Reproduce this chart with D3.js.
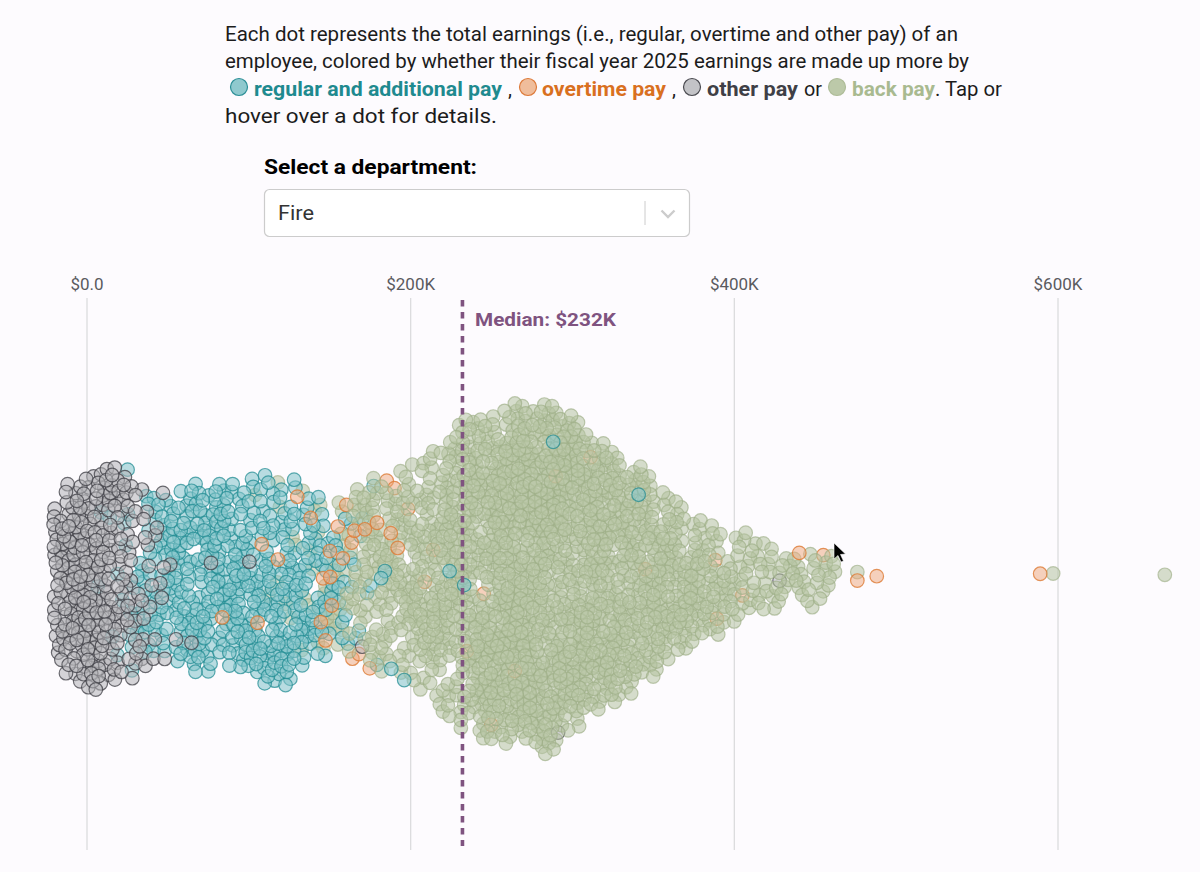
<!DOCTYPE html>
<html><head><meta charset="utf-8">
<script src="https://cdn.jsdelivr.net/npm/d3@7"></script>
<style>
html,body{margin:0;padding:0;background:#fdfbfe;overflow:hidden}
svg{display:block}
text{font-family:Roboto,sans-serif}
</style></head><body>
<svg id="c" width="1200" height="872"></svg>
<script>
const tickValues=[0,200,400,600];
const medianValue=232;
const departmentName="Fire";
const otherPay=[-20,-20,-20,-20,-20,-20,-20,-19,-19,-19,-18,-18,-18,-18,-17,-17,-17,-17,-16,-16,-16,-16,-15,-15,-15,-15,-15,-14,-14,-14,-14,-13,-13,-13,-13,-12,-12,-12,-12,-12,-11,-11,-11,-11,-11,-10,-10,-10,-10,-10,-10,-9,-9,-9,-9,-9,-9,-8,-8,-8,-8,-8,-8,-7,-7,-7,-7,-7,-6,-6,-6,-6,-6,-6,-6,-5,-5,-5,-5,-5,-5,-4,-4,-4,-4,-4,-4,-4,-3,-3,-3,-3,-3,-2,-2,-2,-2,-2,-2,-1,-1,-1,-1,-1,-1,-1,0,0,0,0,0,0,1,1,1,1,1,1,2,2,2,2,2,2,2,3,3,3,3,3,3,4,4,4,4,4,4,4,5,5,5,5,5,5,6,6,6,6,6,7,7,7,7,7,7,7,8,8,8,8,8,8,9,9,9,9,9,9,10,10,10,10,10,11,11,11,11,11,11,12,12,12,12,12,13,13,13,13,13,14,14,14,14,14,14,15,15,15,15,15,16,16,16,16,17,17,17,17,17,18,18,18,18,19,19,19,19,20,20,20,20,21,21,21,21,22,22,22,22,23,23,23,24,24,24,24,25,25,25,26,26,26,27,27,27,27,28,28,28,29,29,30,30,30,31,31,32,32,33,33,34,34,35,35,36,36,37,38,38,39,40,41,42,43,44,45,46,47,48,50,52,55,64,78,100,170,290,428];
const regularPay=[4,9,14,15,17,19,22,23,24,25,26,27,28,28,29,29,31,31,32,33,33,34,34,35,35,36,36,37,37,38,38,38,39,39,39,39,41,41,42,42,42,43,43,43,44,44,44,45,45,45,46,46,46,47,47,47,48,48,48,49,49,49,50,50,50,51,51,51,52,52,52,52,53,53,53,54,54,54,55,55,55,55,56,56,56,57,57,57,58,58,58,58,59,59,59,59,60,60,60,61,61,61,61,62,62,62,62,63,63,63,63,64,64,64,64,65,65,65,65,66,66,66,66,67,67,67,67,68,68,68,68,69,69,69,69,70,70,70,70,71,71,71,71,72,72,72,72,73,73,73,73,74,74,74,74,75,75,75,75,76,76,76,76,77,77,77,77,78,78,78,78,79,79,79,79,80,80,80,80,81,81,81,81,82,82,82,82,83,83,83,83,84,84,84,84,85,85,85,85,86,86,86,86,87,87,87,87,88,88,88,88,89,89,89,89,90,90,90,90,91,91,91,91,92,92,92,92,93,93,93,93,94,94,94,94,95,95,95,95,96,96,96,96,97,97,97,97,98,98,98,98,99,99,99,99,100,100,100,100,101,101,101,101,102,102,102,102,103,103,103,103,104,104,104,104,105,105,105,105,106,106,106,106,107,107,107,107,108,108,108,108,109,109,109,109,110,110,110,110,111,111,111,111,112,112,112,112,113,113,113,113,114,114,114,114,115,115,115,115,116,116,116,116,117,117,117,117,118,118,118,118,119,119,119,119,120,120,120,120,121,121,121,121,122,122,122,122,123,123,123,123,124,124,124,124,125,125,125,125,126,126,126,126,127,127,127,127,128,128,128,128,129,129,129,129,130,130,130,131,131,131,132,132,132,133,133,133,134,134,134,135,135,135,136,136,136,137,137,137,138,138,138,139,139,139,140,140,141,141,142,142,143,143,144,144,144,145,145,146,146,147,147,148,148,149,149,150,150,151,152,152,153,154,155,155,156,157,158,158,159,160,161,162,163,164,165,166,168,169,171,173,175,177,179,182,184,188,196,225,233,289,340];
const overtimePay=[85,105,108,118,130,138,145,147,147,150,150,152,155,158,160,163,164,165,168,172,175,178,185,188,190,192,198,208,215,235,245,250,262,290,310,345,388,390,405,440,455,476,488,589];
const backPay=[104,117,112,118,119,123,126,127,129,131,133,134,136,138,139,141,142,143,144,145,146,147,148,148,149,151,151,152,153,153,154,155,155,156,156,157,157,158,159,159,161,161,162,162,163,163,164,164,165,165,166,166,167,167,168,168,168,169,169,169,171,171,171,172,172,172,172,173,173,173,173,174,174,174,175,175,175,175,176,176,176,176,177,177,177,178,178,178,178,179,179,179,181,181,181,181,182,182,182,182,183,183,183,183,184,184,184,184,185,185,185,185,186,186,186,186,187,187,187,187,188,188,188,188,189,189,189,191,191,191,191,192,192,192,192,193,193,193,193,194,194,194,194,195,195,195,195,196,196,196,196,197,197,197,197,198,198,198,198,199,199,199,199,200,200,200,200,201,201,201,201,202,202,202,202,203,203,203,203,204,204,204,204,205,205,205,205,206,206,206,206,207,207,207,207,208,208,208,208,209,209,209,210,210,210,210,211,211,211,211,211,212,212,212,212,213,213,213,213,213,214,214,214,214,214,215,215,215,215,216,216,216,216,216,217,217,217,217,217,218,218,218,218,219,219,219,219,219,220,220,220,220,220,221,221,221,221,221,222,222,222,222,222,223,223,223,223,223,223,224,224,224,224,224,225,225,225,225,225,226,226,226,226,226,226,227,227,227,227,227,228,228,228,228,228,229,229,229,229,229,229,230,230,230,230,230,231,231,231,231,231,231,232,232,232,232,232,233,233,233,233,233,233,234,234,234,234,234,235,235,235,235,235,235,236,236,236,236,236,237,237,237,237,237,237,238,238,238,238,238,239,239,239,239,239,239,240,240,240,240,240,240,241,241,241,241,241,242,242,242,242,242,242,243,243,243,243,243,243,244,244,244,244,244,245,245,245,245,245,245,246,246,246,246,246,246,247,247,247,247,247,248,248,248,248,248,248,249,249,249,249,249,249,250,250,250,250,250,250,251,251,251,251,251,251,252,252,252,252,252,252,253,253,253,253,253,254,254,254,254,254,254,255,255,255,255,255,255,256,256,256,256,256,256,257,257,257,257,257,257,258,258,258,258,258,258,259,259,259,259,259,260,260,260,260,260,260,261,261,261,261,261,261,262,262,262,262,262,262,263,263,263,263,263,263,263,264,264,264,264,264,264,265,265,265,265,265,265,266,266,266,266,266,266,266,267,267,267,267,267,267,268,268,268,268,268,268,269,269,269,269,269,269,269,270,270,270,270,270,270,271,271,271,271,271,271,271,272,272,272,272,272,272,273,273,273,273,273,273,273,274,274,274,274,274,274,275,275,275,275,275,275,276,276,276,276,276,276,276,277,277,277,277,277,277,278,278,278,278,278,278,278,279,279,279,279,279,279,280,280,280,280,280,280,281,281,281,281,281,281,282,282,282,282,282,282,282,283,283,283,283,283,283,284,284,284,284,284,284,285,285,285,285,285,285,286,286,286,286,286,286,287,287,287,287,287,287,288,288,288,288,288,288,289,289,289,289,289,290,290,290,290,290,290,291,291,291,291,291,291,292,292,292,292,292,293,293,293,293,293,293,294,294,294,294,294,294,295,295,295,295,295,296,296,296,296,296,296,297,297,297,297,297,298,298,298,298,298,298,299,299,299,299,299,300,300,300,300,300,300,301,301,301,301,301,302,302,302,302,302,302,303,303,303,303,303,304,304,304,304,304,305,305,305,305,305,305,306,306,306,306,306,307,307,307,307,307,308,308,308,308,308,309,309,309,309,309,310,310,310,310,310,311,311,311,311,311,312,312,312,312,312,313,313,313,313,313,314,314,314,314,314,315,315,315,315,315,316,316,316,316,317,317,317,317,317,318,318,318,318,318,319,319,319,319,319,320,320,320,320,321,321,321,321,321,322,322,322,322,323,323,323,323,323,324,324,324,324,325,325,325,325,325,326,326,326,326,327,327,327,327,328,328,328,328,328,329,329,329,329,330,330,330,330,331,331,331,331,332,332,332,332,333,333,333,333,334,334,334,334,335,335,335,335,336,336,336,336,337,337,337,337,338,338,338,338,339,339,339,339,340,340,340,341,341,341,341,342,342,342,342,343,343,343,343,344,344,344,345,345,345,345,346,346,346,346,347,347,347,348,348,348,348,349,349,349,350,350,350,351,351,351,351,352,352,352,353,353,353,354,354,354,354,355,355,355,356,356,356,357,357,357,358,358,358,359,359,359,360,360,360,361,361,361,362,362,362,363,363,363,364,364,364,365,365,366,366,366,367,367,367,368,368,369,369,369,370,370,371,371,371,372,372,373,373,373,374,374,375,375,375,376,376,377,377,378,378,378,379,379,380,380,381,381,382,382,383,383,384,384,385,385,386,386,387,387,388,388,389,389,390,390,391,391,392,392,393,393,394,394,395,396,396,397,397,398,399,399,400,400,401,402,402,403,404,404,405,405,406,407,407,408,409,410,410,411,412,412,413,414,415,415,416,417,418,418,419,420,421,422,423,423,424,425,426,427,428,429,430,431,432,434,435,436,437,438,439,440,441,442,443,445,446,447,448,449,450,451,452,453,455,456,457,458,459,460,461,462,476,597,666];
const backPayCore=[201,203,204,206,207,209,210,211,212,214,215,216,217,218,219,220,221,222,222,223,224,225,225,226,227,227,228,229,229,230,230,231,232,232,233,233,234,234,235,235,236,236,237,237,238,238,239,239,240,240,240,241,241,242,242,242,243,243,244,244,244,245,245,245,246,246,246,247,247,247,248,248,248,249,249,249,250,250,250,250,251,251,251,252,252,252,252,253,253,253,254,254,254,254,255,255,255,255,256,256,256,256,257,257,257,257,258,258,258,258,259,259,259,259,260,260,260,260,261,261,261,261,262,262,262,262,263,263,263,263,264,264,264,264,265,265,265,265,266,266,266,266,267,267,267,267,268,268,268,268,269,269,269,269,270,270,270,270,271,271,271,271,272,272,272,272,273,273,273,273,274,274,274,274,275,275,275,275,276,276,276,276,277,277,277,277,278,278,278,278,279,279,279,279,280,280,280,280,281,281,281,281,282,282,282,282,283,283,283,283,284,284,284,284,285,285,285,285,286,286,286,286,287,287,287,287,288,288,288,288,289,289,289,289,290,290,290,290,291,291,291,291,292,292,292,292,293,293,293,293,294,294,294,294,295,295,295,295,296,296,296,296,297,297,297,297,298,298,298,298,299,299,299,299,300,300,300,301,301,301,302,302,302,303,303,303,304,304,304,305,305,305,306,306,306,307,307,307,308,308,308,309,309,309,310,310,310,311,311,311,312,312,312,313,313,313,314,314,314,315,315,315,316,316,316,317,317,317,318,318,318,319,319,319,320,320,320,321,321,321,322,322,322,323,323,323,324,324,324,325,325,325,326,326,327,327,328,328,329,329,330,330,331,331,332,332,333,333,334,334,335,335,336,336,337,337,338,338,339,339,340,340,341,341,342,342,343,343,344,344,345,345,346,346,347,347,348,348,349,349,350,350,351,352,352,353,354,354,355,356,356,357,358,358,359,360,361,361,362,363,364,365,366,367,368,369,370,371,372,373,374,375,376,377,378,380,381,383,384,386,388,390];

const seriesStyles={
  regular:{fill:"#7fc2c8",stroke:"#1f8a92",fo:.55,so:.72},
  overtime:{fill:"#eda679",stroke:"#dd7a34",fo:.5,so:.8},
  other:{fill:"#b2b2b6",stroke:"#3e3e44",fo:.55,so:.75},
  back:{fill:"#b4c2a0",stroke:"#9dae86",fo:.55,so:.65}
};
const x=d3.scaleLinear().domain([0,600]).range([87,1058]);
const centerY=576, R=6.8;
const svg=d3.select("#c");

function rows(name,arr){return arr.map((v,i)=>({v,kind:name,i}));}
const nodes=[].concat(rows("other",otherPay),rows("regular",regularPay),rows("overtime",overtimePay),rows("back",backPay));
const sortedValues=nodes.map(d=>d.v).sort(d3.ascending);
rows("back",backPayCore).forEach(d=>{d.i+=backPay.length;nodes.push(d);});
function nearbyCount(v){return d3.bisectRight(sortedValues,v+10)-d3.bisectLeft(sortedValues,v-10);}
// swarm start: spread each dot vertically according to how many neighbours share its earnings
nodes.forEach((d,k)=>{
  const half=Math.min(d.v<60?104:172,nearbyCount(d.v)*(d.v<190?1.14:1.36));
  const w=(k*k*0.7548776662)%1;
  d.x=x(d.v);
  d.y=centerY+(w*2-1)*half;
});
function layer(d){
  if(d.kind==="back")return d.v<160?0:4;
  if(d.kind==="regular")return d.v>=180?5:1;
  if(d.kind==="overtime")return (d.i%2&&(d.v<=200||d.v>=440))?5:2;
  return d.v>300?2:3;
}
const sim=d3.forceSimulation(nodes)
  .alpha(.6)
  .force("x",d3.forceX(d=>x(d.v)).strength(.5))
  .force("y",d3.forceY(centerY).strength(.002))
  .force("c",d3.forceCollide(4).strength(.5).iterations(1))
  .stop();
for(let i=0;i<60;i++)sim.tick();

// grid + ticks
const g=svg.append("g");
g.selectAll("line.grid").data(tickValues).join("line")
 .attr("x1",d=>x(d)).attr("x2",d=>x(d)).attr("y1",298).attr("y2",850)
 .attr("stroke","#dcdcde").attr("stroke-width",1.3);
g.selectAll("text.tick").data(tickValues).join("text")
 .attr("x",d=>x(d)).attr("y",290).attr("text-anchor","middle")
 .attr("font-size",17).attr("fill","#5a5a5e")
 .text(d=>d===0?"$0.0":`$${d}K`);

// dots
const ordered=nodes.slice().sort((a,b)=>d3.ascending(layer(a),layer(b))||d3.ascending(a.i%7,b.i%7));
svg.append("g").selectAll("circle").data(ordered).join("circle")
 .attr("cx",d=>d.x).attr("cy",d=>d.y).attr("r",R)
 .attr("fill",d=>seriesStyles[d.kind].fill).attr("fill-opacity",d=>seriesStyles[d.kind].fo)
 .attr("stroke",d=>seriesStyles[d.kind].stroke).attr("stroke-opacity",d=>seriesStyles[d.kind].so)
 .attr("stroke-width",1.2);

// median
svg.append("line").attr("x1",x(medianValue)).attr("x2",x(medianValue)).attr("y1",300).attr("y2",846)
 .attr("stroke","#7f5380").attr("stroke-width",3.6).attr("stroke-dasharray","6.5,5.5");
svg.append("text").attr("x",475).attr("y",326).attr("font-size",19).attr("font-weight",700)
 .attr("fill","#7f5380").attr("textLength",141).attr("lengthAdjust","spacingAndGlyphs").text(`Median: $${medianValue}K`);

// intro text
function T(s,xx,y,w,o={}){
  const t=svg.append("text").attr("x",xx).attr("y",y).attr("font-size",o.size||20)
   .attr("font-weight",o.bold?700:400).attr("fill",o.fill||"#1c1c1c").text(s);
  if(w)t.attr("textLength",w).attr("lengthAdjust","spacingAndGlyphs");
  return t;
}
T("Each dot represents the total earnings (i.e., regular, overtime and other pay) of an",225,41,733);
T("employee, colored by whether their fiscal year 2025 earnings are made up more by",225,68,744);
T("hover over a dot for details.",225,123,272);
T("regular and additional pay",254,96,248,{bold:1,fill:"#1f8a8f"});
T(",",508,96,0);
T("overtime pay",542,96,124,{bold:1,fill:"#d9701f"});
T(",",672,96,0);
T("other pay",707,96,91,{bold:1,fill:"#3f3f46"});
T("or",804,96,18);
T("back pay",852,96,83,{bold:1,fill:"#a9ba90"});
T(". Tap or",935,96,67);
const legend=[["regular",239],["overtime",528],["other",692],["back",837]];
svg.append("g").selectAll("circle").data(legend).join("circle")
 .attr("cx",d=>d[1]).attr("cy",87).attr("r",8.5)
 .attr("fill",d=>({regular:"#8fc9ce",overtime:"#f0bd9b",other:"#c3c3c7",back:"#bcc9a9"})[d[0]])
 .attr("stroke",d=>({regular:"#2c8f97",overtime:"#dd7a3a",other:"#4a4a50",back:"#aebc98"})[d[0]])
 .attr("stroke-width",1.2);

// select control
T("Select a department:",264,174,213,{bold:1,fill:"#000",size:21});
svg.append("rect").attr("x",264.5).attr("y",189.5).attr("width",425).attr("height",47).attr("rx",5)
 .attr("fill","#fff").attr("stroke","#cccccc").attr("stroke-width",1.2);
T(departmentName,278,220,36,{fill:"#333",size:20});
svg.append("line").attr("x1",645).attr("x2",645).attr("y1",201).attr("y2",225).attr("stroke","#cccccc");
svg.append("path").attr("d","M661.5,210.5 L668,217 L674.5,210.5").attr("fill","none").attr("stroke","#cccccc").attr("stroke-width",2.4);

// pointer
svg.append("path").attr("d","M834,543 L834,559 L838,555.5 L841,562 L843.5,561 L840.5,554.5 L845.5,554 Z")
 .attr("fill","#000").attr("stroke","#fff").attr("stroke-width",.6);
</script>
</body></html>
